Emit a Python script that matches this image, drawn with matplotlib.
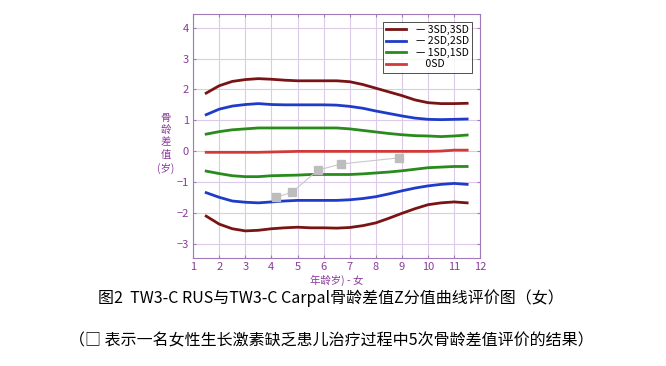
import matplotlib
matplotlib.use("Agg")
import matplotlib.pyplot as plt

plt.rcParams['font.family'] = ['Noto Sans CJK SC', 'DejaVu Sans']

# curve x positions (age, years)
ages = [1.5, 2, 2.5, 3, 3.5, 4, 4.5, 5, 5.5, 6, 6.5, 7, 7.5, 8, 8.5, 9, 9.5, 10, 10.5, 11, 11.5]

p3 = [1.88, 2.12, 2.26, 2.32, 2.35, 2.33, 2.30, 2.28, 2.28, 2.28, 2.28, 2.25, 2.16, 2.04, 1.92, 1.80, 1.66, 1.57, 1.54, 1.54, 1.55]
p2 = [1.18, 1.36, 1.46, 1.51, 1.54, 1.51, 1.50, 1.50, 1.50, 1.50, 1.49, 1.45, 1.39, 1.30, 1.22, 1.14, 1.07, 1.03, 1.02, 1.03, 1.04]
p1 = [0.55, 0.63, 0.69, 0.72, 0.75, 0.75, 0.75, 0.75, 0.75, 0.75, 0.75, 0.72, 0.67, 0.62, 0.57, 0.53, 0.50, 0.49, 0.47, 0.49, 0.52]
z0 = [-0.04, -0.04, -0.04, -0.04, -0.04, -0.03, -0.02, -0.01, -0.01, -0.01, -0.01, -0.01, -0.01, -0.01, -0.01, -0.01, -0.01, -0.01, 0.0, 0.03, 0.03]
m1 = [-0.65, -0.73, -0.80, -0.83, -0.83, -0.80, -0.79, -0.78, -0.76, -0.76, -0.76, -0.76, -0.74, -0.71, -0.68, -0.64, -0.59, -0.54, -0.52, -0.50, -0.50]
m2 = [-1.35, -1.50, -1.62, -1.66, -1.68, -1.65, -1.62, -1.60, -1.60, -1.60, -1.60, -1.58, -1.54, -1.48, -1.39, -1.29, -1.20, -1.13, -1.08, -1.05, -1.08]
m3 = [-2.11, -2.37, -2.52, -2.59, -2.57, -2.52, -2.49, -2.47, -2.49, -2.49, -2.50, -2.48, -2.42, -2.33, -2.18, -2.02, -1.87, -1.74, -1.68, -1.65, -1.68]

# one patient, 5 assessments
pt_x = [4.18, 4.8, 5.78, 6.66, 8.88]
pt_y = [-1.5, -1.33, -0.62, -0.42, -0.22]

purple = '#8a3a9a'
fig = plt.figure(figsize=(6.66, 3.66), dpi=100)
ax = fig.add_axes([0.29, 0.295, 0.431, 0.667])

c3, c2, c1, c0 = '#7a1414', '#1f3cc8', '#2a8a1e', '#d23a3a'
lw = 2.0
ax.plot(ages, p3, color=c3, lw=lw, label='— 3SD,3SD')
ax.plot(ages, p2, color=c2, lw=lw, label='— 2SD,2SD')
ax.plot(ages, p1, color=c1, lw=lw, label='— 1SD,1SD')
ax.plot(ages, z0, color=c0, lw=lw, label='    0SD')
ax.plot(ages, m1, color=c1, lw=lw)
ax.plot(ages, m2, color=c2, lw=lw)
ax.plot(ages, m3, color=c3, lw=lw)

ax.plot(pt_x, pt_y, color='#c8c8c8', lw=0.8, marker='s', ms=5.5,
        mfc='#bdbdbd', mec='#bdbdbd', zorder=5)

ax.set_xlim(1, 12)
ax.set_ylim(-3.47, 4.45)
ax.set_xticks(range(1, 13))
ax.set_yticks(range(-3, 5))
ax.grid(True, color='#dccbe8', lw=0.8)
for s in ax.spines.values():
    s.set_color('#a07ab8')
    s.set_linewidth(0.8)
ax.tick_params(colors='#a07ab8', labelcolor=purple, labelsize=8, direction='in',
               length=2, top=True, right=True, pad=3)

ax.set_xlabel('年龄岁) - 女', color=purple, fontsize=7.5, labelpad=2)
ax.set_ylabel('骨\n龄\n差\n值\n(岁)', color=purple, fontsize=7.5, rotation=0,
              linespacing=1.3, va='center', ha='center')
ax.yaxis.set_label_coords(-0.095, 0.47)

leg = ax.legend(loc='upper right', bbox_to_anchor=(0.99, 0.99), fontsize=7.5,
                frameon=True, fancybox=False, handlelength=2.0, borderpad=0.3,
                labelspacing=0.15, handletextpad=0.9)
leg.get_frame().set_edgecolor('black')
leg.get_frame().set_linewidth(0.6)

fig.text(0.497, 0.186, '图2  TW3-C RUS与TW3-C Carpal骨龄差值Z分值曲线评价图（女）',
         ha='center', va='center', fontsize=11.5, color='black')
fig.text(0.497, 0.068, '（□ 表示一名女性生长激素缺乏患儿治疗过程中5次骨龄差值评价的结果）',
         ha='center', va='center', fontsize=11.5, color='black')

fig.savefig('out.png', dpi=100)
